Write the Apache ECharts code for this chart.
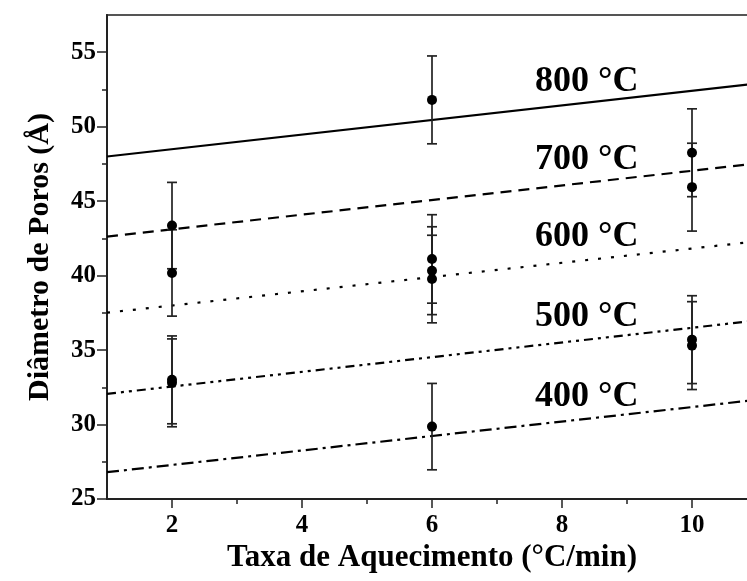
<!DOCTYPE html>
<html>
<head>
<meta charset="utf-8">
<script src="https://cdn.jsdelivr.net/npm/echarts@6/dist/echarts.min.js"></script>
<style>
  html, body { margin: 0; padding: 0; background: #fff; }
  #chart { width: 747px; height: 581px; }
</style>
</head>
<body>
<div id="chart"></div>
<script>
// Measured pore diameters (Å) with error bars, by heating rate (ºC/min)
const pointRate = [2, 2, 2, 2, 6, 6, 6, 6, 6, 10, 10, 10, 10];
const pointDiameter = [43.36, 40.18, 33.0, 32.8, 51.8, 41.12, 40.33, 39.77, 29.86, 48.25, 45.94, 35.7, 35.3];
const pointError = [2.9, 2.9, 2.95, 2.95, 2.95, 2.97, 2.95, 2.94, 2.9, 2.95, 2.95, 2.95, 2.95];

// Linear fits per calcination temperature: diameter at rate 1 and at rate 11
const fitTemps = ['800 °C', '700 °C', '600 °C', '500 °C', '400 °C'];
const fitRateEnds = [1, 11];
const fitStart = [48.0, 42.62, 37.51, 32.06, 26.8];
const fitEnd = [52.9, 47.53, 42.3, 36.99, 31.66];
const fitDash = [null, [11, 7], [3, 10], [9, 5, 3, 5, 3, 5], [12, 5, 3, 5]];

// Temperature captions anchored in data space
const captionRate = [8.38, 8.38, 8.38, 8.38, 8.38];
const captionDiameter = [53.0, 47.75, 42.6, 37.25, 31.9];

// Axis ticks
const xMajorTicks = [2, 4, 6, 8, 10];
const xMinorTicks = [3, 5, 7, 9];
const yMajorTicks = [25, 30, 35, 40, 45, 50, 55];
const yMinorTicks = [27.5, 32.5, 37.5, 42.5, 47.5, 52.5];

const serif = "'Liberation Serif', 'Times New Roman', serif";
const ink = '#000';
const axisInk = '#222';

const chart = echarts.init(document.getElementById('chart'), null, { renderer: 'canvas' });

const fitSeries = fitTemps.map((t, i) => ({
  type: 'line',
  name: t,
  xAxisIndex: 0,
  yAxisIndex: 0,
  data: [[fitRateEnds[0], fitStart[i]], [fitRateEnds[1], fitEnd[i]]],
  symbol: 'none',
  silent: true,
  lineStyle: {
    color: ink,
    width: i === 0 ? 2 : 2.2,
    type: fitDash[i] || 'solid'
  },
  z: 2
}));

const errorData = pointRate.map((r, i) => [r, pointDiameter[i], pointError[i]]);

const option = {
  animation: false,
  backgroundColor: '#fff',
  grid: {
    left: 107,
    top: 15,
    width: 650,
    height: 484,
    outerBoundsMode: 'none',
    containLabel: false,
    show: true,
    borderColor: '#555',
    borderWidth: 2,
    backgroundColor: 'transparent'
  },
  xAxis: [
    {
      type: 'value',
      min: 1,
      max: 11,
      interval: 1,
      name: 'Taxa de Aquecimento (°C/min)',
      nameLocation: 'middle',
      nameGap: 42,
      nameTextStyle: { fontFamily: serif, fontWeight: 'bold', fontSize: 31, color: ink },
      axisLine: { show: true, onZero: false, lineStyle: { color: axisInk, width: 2 } },
      axisTick: { show: true, inside: false, length: 9, customValues: xMajorTicks, lineStyle: { color: axisInk, width: 1.5 } },
      axisLabel: { show: true, customValues: xMajorTicks, margin: 14, fontFamily: serif, fontWeight: 'bold', fontSize: 25, color: ink },
      splitLine: { show: false }
    },
    {
      type: 'value',
      min: 1,
      max: 11,
      interval: 1,
      position: 'bottom',
      axisLine: { show: false },
      axisTick: { show: true, inside: false, length: 5, customValues: xMinorTicks, lineStyle: { color: axisInk, width: 1.5 } },
      axisLabel: { show: false },
      splitLine: { show: false }
    }
  ],
  yAxis: [
    {
      type: 'value',
      min: 25,
      max: 57.5,
      interval: 5,
      name: 'Diâmetro de Poros (Å)',
      nameLocation: 'middle',
      nameGap: 52,
      nameTextStyle: { fontFamily: serif, fontWeight: 'bold', fontSize: 30, color: ink },
      axisLine: { show: true, onZero: false, lineStyle: { color: axisInk, width: 2 } },
      axisTick: { show: true, inside: false, length: 10, customValues: yMajorTicks, lineStyle: { color: axisInk, width: 1.5 } },
      axisLabel: { show: true, customValues: yMajorTicks, margin: 11, fontFamily: serif, fontWeight: 'bold', fontSize: 25, color: ink },
      splitLine: { show: false }
    },
    {
      type: 'value',
      min: 25,
      max: 57.5,
      interval: 5,
      position: 'left',
      axisLine: { show: false },
      axisTick: { show: true, inside: false, length: 5, customValues: yMinorTicks, lineStyle: { color: axisInk, width: 1.5 } },
      axisLabel: { show: false },
      splitLine: { show: false }
    }
  ],
  series: [
    ...fitSeries,
    {
      type: 'custom',
      name: 'error',
      xAxisIndex: 0,
      yAxisIndex: 0,
      silent: true,
      z: 3,
      data: errorData,
      renderItem: function (params, api) {
        const x = api.value(0);
        const y = api.value(1);
        const e = api.value(2);
        const top = api.coord([x, y + e]);
        const bot = api.coord([x, y - e]);
        const half = 5;
        const style = { stroke: axisInk, lineWidth: 1.7 };
        return {
          type: 'group',
          children: [
            { type: 'line', shape: { x1: top[0], y1: top[1], x2: bot[0], y2: bot[1] }, style: style },
            { type: 'line', shape: { x1: top[0] - half, y1: top[1], x2: top[0] + half, y2: top[1] }, style: style },
            { type: 'line', shape: { x1: bot[0] - half, y1: bot[1], x2: bot[0] + half, y2: bot[1] }, style: style }
          ]
        };
      }
    },
    {
      type: 'scatter',
      name: 'points',
      xAxisIndex: 0,
      yAxisIndex: 0,
      silent: true,
      z: 4,
      symbol: 'circle',
      symbolSize: 10,
      itemStyle: { color: '#000', opacity: 1 },
      data: pointRate.map((r, i) => [r, pointDiameter[i]])
    },
    {
      type: 'scatter',
      name: 'captions',
      xAxisIndex: 0,
      yAxisIndex: 0,
      silent: true,
      z: 5,
      symbolSize: 1,
      itemStyle: { color: '#fff', opacity: 1 },
      label: {
        show: true,
        position: 'inside',
        formatter: '{b}',
        fontFamily: serif,
        fontWeight: 'bold',
        fontSize: 36,
        color: '#000',
        opacity: 1,
        textBorderWidth: 0
      },
      data: fitTemps.map((t, i) => ({ name: t, value: [captionRate[i], captionDiameter[i]] }))
    }
  ]
};

chart.setOption(option);
</script>
</body>
</html>
